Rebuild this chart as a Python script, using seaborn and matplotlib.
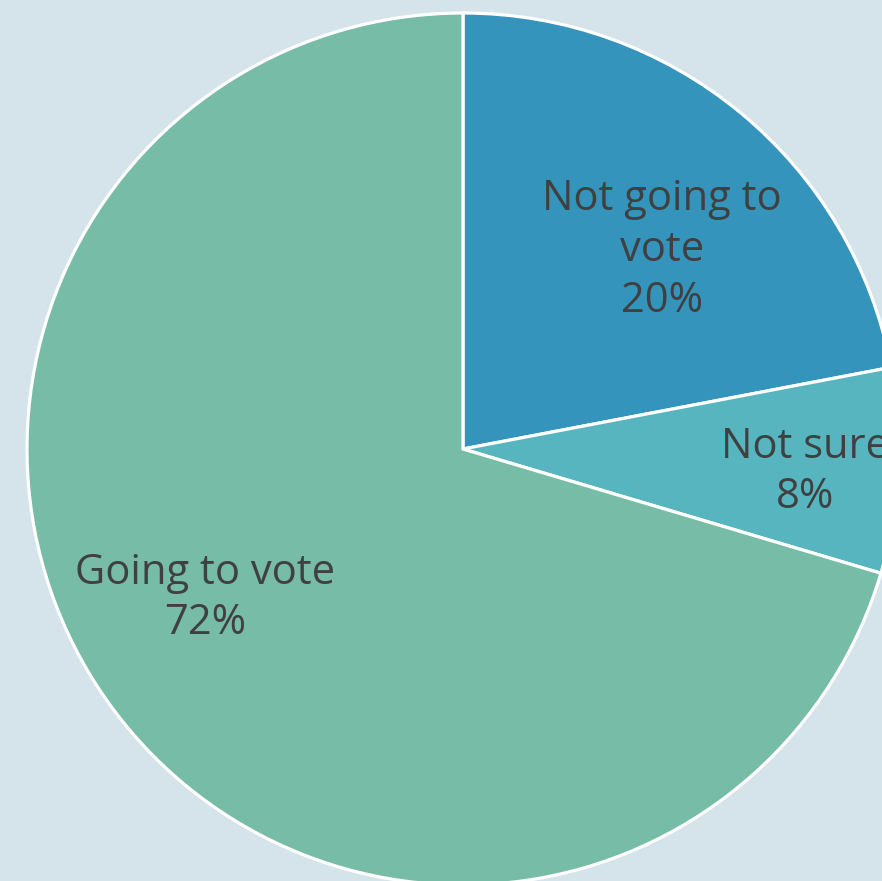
import matplotlib
matplotlib.use("Agg")
import matplotlib.pyplot as plt
import seaborn as sns

# Data
categories = ["Not going to vote", "Not sure", "Going to vote"]
label_text = ["Not going to\nvote", "Not sure", "Going to vote"]
percent_labels = ["20%", "8%", "72%"]
# wedge sizes as drawn in the picture
wedge_sizes = [22.0, 7.6, 70.4]
colors = ["#3594bb", "#57b5bf", "#76bca6"]

sns.set_theme(style="white")
plt.rcParams['font.family'] = ['Open Sans', 'DejaVu Sans']

W, H = 882, 881
fig = plt.figure(figsize=(W / 100, H / 100), dpi=100)
bg = "#d5e3ea"
fig.patch.set_facecolor(bg)
ax = fig.add_axes([0, 0, 1, 1])
ax.set_facecolor(bg)

cx, cy, r = 463, 449, 436
ax.pie(wedge_sizes, colors=colors, startangle=90, counterclock=False,
       radius=1.0, center=(0, 0),
       wedgeprops=dict(edgecolor="white", linewidth=2.3))
ax.set_aspect("auto")
ax.set_xlim(-cx / r, (W - cx) / r)
ax.set_ylim(-(H - cy) / r, cy / r)
ax.axis("off")

label_pos = [(662, 250), (805, 472), (205, 598)]
for txt, pct, (px, py) in zip(label_text, percent_labels, label_pos):
    ax.text((px - cx) / r, (cy - py) / r, f"{txt}\n{pct}", ha="center", va="center",
            fontsize=30, color="#404040", linespacing=1.28)

fig.savefig("out.png", dpi=100, facecolor=bg)
